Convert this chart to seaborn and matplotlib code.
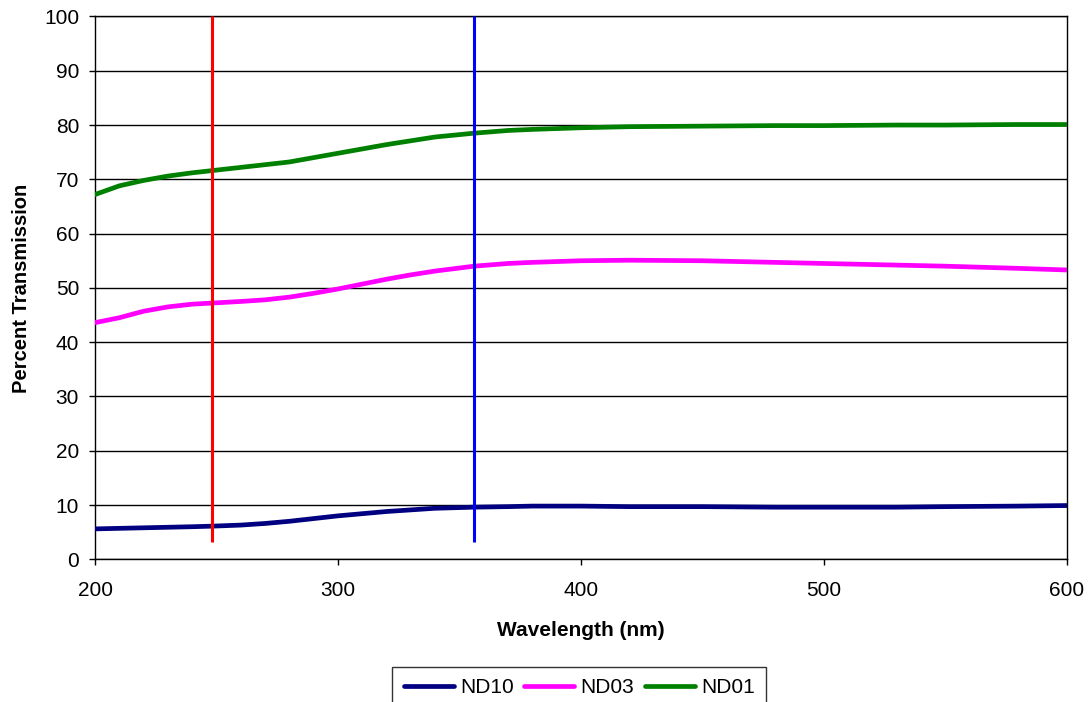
import matplotlib
matplotlib.use("Agg")
import matplotlib.pyplot as plt
import seaborn as sns
import pandas as pd

wavelength = [200, 210, 220, 230, 240, 248, 260, 270, 280, 290, 300, 310, 320, 330, 340,
              356, 370, 380, 400, 420, 450, 480, 500, 530, 550, 580, 600]
nd10 = [5.6, 5.7, 5.8, 5.9, 6.0, 6.1, 6.3, 6.6, 7.0, 7.5, 8.0, 8.4, 8.8, 9.1, 9.4,
        9.6, 9.7, 9.8, 9.8, 9.7, 9.7, 9.6, 9.6, 9.6, 9.7, 9.8, 9.9]
nd03 = [43.6, 44.5, 45.7, 46.5, 47.0, 47.2, 47.5, 47.8, 48.3, 49.0, 49.8, 50.7, 51.6, 52.4, 53.1,
        54.0, 54.5, 54.7, 55.0, 55.1, 55.0, 54.7, 54.5, 54.2, 54.0, 53.6, 53.3]
nd01 = [67.2, 68.8, 69.8, 70.6, 71.2, 71.6, 72.2, 72.7, 73.2, 74.0, 74.8, 75.6, 76.4, 77.1, 77.8,
        78.5, 79.0, 79.2, 79.5, 79.7, 79.8, 79.9, 79.9, 80.0, 80.0, 80.1, 80.1]
series_names = ["ND10", "ND03", "ND01"]
series_colors = ["#000080", "#ff00ff", "#008000"]
marker_lines = [248, 356]
marker_colors = ["#ff0000", "#0000ff"]
marker_range = [3.1, 100]
x_ticks = [200, 300, 400, 500, 600]
y_ticks = list(range(0, 101, 10))

df = pd.DataFrame({
    "Wavelength": wavelength * 3,
    "Value": nd10 + nd03 + nd01,
    "Series": ["ND10"] * len(wavelength) + ["ND03"] * len(wavelength) + ["ND01"] * len(wavelength),
})

sns.set_style("white")
plt.rcParams["font.family"] = ["Liberation Sans", "DejaVu Sans"]
for k in ["text.color", "axes.labelcolor", "xtick.color", "ytick.color"]:
    plt.rcParams[k] = "black"

fig = plt.figure(figsize=(10.91, 7.02), dpi=100)
ax = fig.add_axes([0.0871, 0.2033, 0.8906, 0.7732])

sns.lineplot(data=df, x="Wavelength", y="Value", hue="Series", hue_order=series_names,
             palette=series_colors, linewidth=3.4, ax=ax, legend=True, zorder=3)

for xv, c in zip(marker_lines, marker_colors):
    ax.plot([xv, xv], marker_range, color=c, linewidth=2.2, zorder=4, solid_capstyle="butt")

ax.set_xlim(200, 600)
ax.set_ylim(0, 100)
ax.set_xticks(x_ticks)
ax.set_yticks(y_ticks)
ax.yaxis.grid(True, color="black", linewidth=1.0)
ax.xaxis.grid(False)
ax.set_axisbelow(True)
for s in ax.spines.values():
    s.set_color("black")
    s.set_linewidth(1.0)
ax.tick_params(axis="both", direction="out", length=4.5, width=1, color="black",
               labelsize=15, left=True, bottom=True, labelcolor="black")
ax.tick_params(axis="x", pad=11)
ax.tick_params(axis="y", pad=7)
ax.set_xlabel("Wavelength (nm)", fontsize=15, fontweight="bold", labelpad=15)
ax.set_ylabel("Percent Transmission", fontsize=14.5, fontweight="bold", labelpad=9)

ax.get_legend().remove()
handles, labels = ax.get_legend_handles_labels()
leg = fig.legend(handles, labels, loc="upper center", bbox_to_anchor=(0.531, 0.05),
                 ncol=3, frameon=True, fontsize=15, handlelength=2.4, handletextpad=0.3,
                 columnspacing=0.5, borderpad=0.55, borderaxespad=0, fancybox=False)
leg.get_frame().set_edgecolor("black")
leg.get_frame().set_linewidth(1.0)
for h in leg.get_lines():
    h.set_linewidth(3.4)

fig.savefig("out.png", dpi=100)
